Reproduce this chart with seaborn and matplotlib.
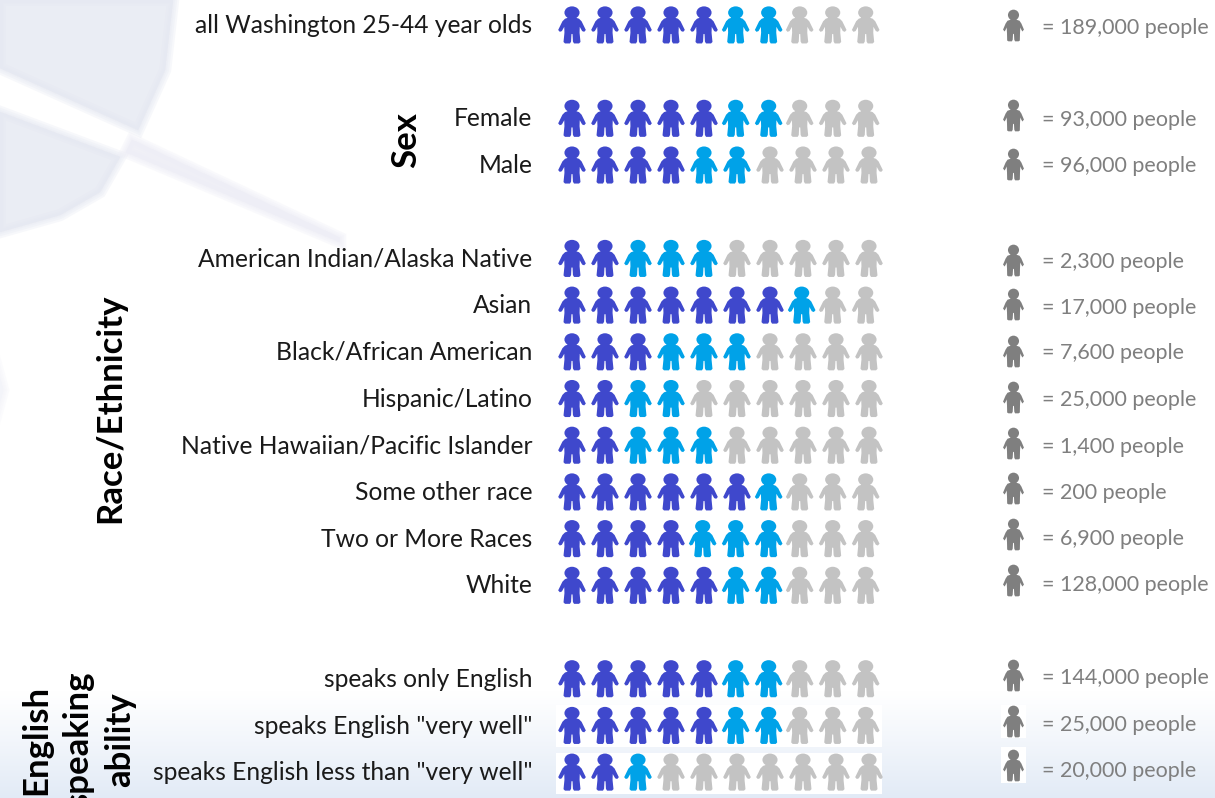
"""Pictogram: share of Washington 25-44 year olds by group, ten person icons per row."""

import numpy as np
import pandas as pd
import matplotlib
matplotlib.use("Agg")
import matplotlib.pyplot as plt
from matplotlib.path import Path
from matplotlib.transforms import Affine2D, ScaledTranslation
import seaborn as sns

labels = ["all Washington 25-44 year olds", "Female", "Male",
          "American Indian/Alaska Native", "Asian", "Black/African American",
          "Hispanic/Latino", "Native Hawaiian/Pacific Islander", "Some other race",
          "Two or More Races", "White",
          "speaks only English", 'speaks English "very well"',
          'speaks English less than "very well"']
rows = [0, 2, 3, 5, 6, 7, 8, 9, 10, 11, 12, 14, 15, 16]
n_dark = [5, 5, 4, 2, 7, 3, 2, 2, 6, 4, 5, 5, 5, 2]
n_blue = [2, 2, 2, 3, 1, 3, 2, 3, 1, 3, 2, 2, 2, 1]
people = ["189,000", "93,000", "96,000", "2,300", "17,000", "7,600", "25,000",
          "1,400", "200", "6,900", "128,000", "144,000", "25,000", "20,000"]

COLORS = {"dark": "#3f48cc", "blue": "#00a2e8", "gray": "#c3c3c3"}
W, H = 1215, 798
SLOT_PX, ROW_PX = 33.0, 46.7
X0_PX, Y0_PX = 572.0, 25.0   # first icon of the first row
# the right hand column is hand placed in the source, it drifts from the rows
ICON_NUDGE_PX = [0, -3.5, -1, 1, -1.5, -1, -2, -2, -4, -5, -5, -4, -4.5, -7]
TEXT_NUDGE_PX = [1, 0, -1, 1.5, 1, 0, 0, 0, -1, -1.5, -2, -2, -2.5, -3]


def person(half, head_rx, head_ry, head_v):
    left = [(-u, v) for u, v in half]
    body = Path(left + [(u, v) for u, v in reversed(half)] + [left[0]], closed=True)
    head = Path.unit_circle().transformed(Affine2D().scale(head_rx, head_ry).translate(0, head_v))
    return Path.make_compound_path(body, head)


big_icon = person([(0.0, 0.42), (0.2, 0.4), (0.38, 0.34), (0.52, 0.2), (0.75, -0.27),
                   (0.66, -0.37), (0.55, -0.33), (0.42, -0.1), (0.41, -0.42), (0.46, -0.92),
                   (0.38, -1.0), (0.11, -1.0), (0.05, -0.9), (0.03, -0.5), (0.0, -0.48)],
                  0.41, 0.34, 0.67)
small_icon = person([(0.0, 0.4), (0.2, 0.36), (0.38, 0.3), (0.5, 0.12), (0.66, -0.26),
                     (0.56, -0.38), (0.47, -0.22), (0.43, -0.12), (0.41, -0.5), (0.4, -0.95),
                     (0.32, -1.0), (0.1, -1.0), (0.05, -0.9), (0.03, -0.55), (0.0, -0.52)],
                    0.35, 0.34, 0.66)

# long table, one line per icon
recs = []
for r, d, b in zip(rows, n_dark, n_blue):
    for s in range(10):
        group = "dark" if s < d else "blue" if s < d + b else "gray"
        shift = 0.0
        if d + b >= 7:   # these rows sit a little tighter in the source
            shift = {"dark": 0.0, "blue": -0.04, "gray": -0.1}[group]
        recs.append(dict(row=r, slot=s + shift, group=group))
icons = pd.DataFrame(recs)
legend_icons = pd.DataFrame(dict(row=np.array(rows) + np.array(ICON_NUDGE_PX) / ROW_PX,
                                 slot=(1013 - X0_PX) / SLOT_PX))

sns.set_theme(style="white")
plt.rcParams["font.family"] = ["Lato", "DejaVu Sans"]

fig = plt.figure(figsize=(W / 100, H / 100), dpi=100)

# backdrop in pixel coordinates: faded logo, bottom gradient, white patches
bg = fig.add_axes([0, 0, 1, 1], zorder=0)
bg.axis("off")
grad = np.linspace(0, 1, 64)[:, None, None] ** 1.1
top, bottom = np.array([1, 1, 1.0]), np.array([0.886, 0.92, 0.965])
bg.imshow(top + grad * (bottom - top), extent=(0, W, H, 690), aspect="auto", zorder=0)
bg.set_xlim(0, W)
bg.set_ylim(H, 0)


def soft_fill(xs, ys, color):
    # stacked translucent strokes stand in for the blurred edge
    for lw in (9, 6, 3, 0.5):
        bg.fill(xs, ys, facecolor=color, edgecolor=color, alpha=0.3, lw=lw)


logo = "#e6e9f2"
soft_fill([0, 173, 165, 138, 0], [0, 0, 70, 130, 68], logo)
soft_fill([0, 120, 100, 60, 0], [112, 157, 192, 215, 232], logo)
soft_fill([132, 340, 340, 126], [140, 238, 242, 152], "#eeeef6")
soft_fill([-8, 3, -8], [350, 390, 430], "#f3f4f9")
for x, y, w, h in [(556, 705, 326, 42), (556, 753, 326, 41), (1001, 705, 25, 33), (1001, 747, 25, 36)]:
    bg.fill([x, x + w, x + w, x], [y, y, y + h, y + h], color="white", lw=0)

# data axes, slot and row scales line up with the icon grid
ax_left = 545
ax = fig.add_axes([ax_left / W, 0, 1 - ax_left / W, 1], zorder=1)
ax.patch.set_alpha(0)
sns.scatterplot(data=icons, x="slot", y="row", hue="group", palette=COLORS, marker=big_icon,
                s=720, linewidth=0, legend=False, ax=ax)
sns.scatterplot(data=legend_icons, x="slot", y="row", color="#7f7f7f", marker=small_icon,
                s=520, linewidth=0, legend=False, ax=ax)
ax.set_xlim((ax_left - X0_PX) / SLOT_PX, (W - X0_PX) / SLOT_PX)
ax.set_ylim((H - Y0_PX) / ROW_PX, -Y0_PX / ROW_PX)
ax.set(xlabel="", ylabel="", xticks=[])
ax.set_yticks(rows, labels)
ax.tick_params(axis="y", length=0, pad=9, labelsize=17.7, labelcolor="#1a1a1a")
for lab in ax.get_yticklabels():
    lab.set_transform(lab.get_transform() + ScaledTranslation(0, 1.5 / 100, fig.dpi_scale_trans))
sns.despine(ax=ax, left=True, bottom=True)

text_slot = (1042 - X0_PX) / SLOT_PX
for r, p, nudge in zip(rows, people, TEXT_NUDGE_PX):
    ax.text(text_slot, r + (1.5 + nudge) / ROW_PX, f"= {p} people", color="#7f7f7f", fontsize=15.5,
            va="center", ha="left")

# group titles sit left of the labels, in figure pixels
bold = dict(rotation=90, ha="center", va="center", fontweight="bold", color="black",
            fontsize=25, transform=bg.transData)
bg.text(406, 140, "Sex", **bold)
bg.text(110, 408, "Race/Ethnicity", **bold)
bg.text(78, 740, "English\nspeaking\nability", linespacing=1.38, **bold)

plt.savefig("out.png", dpi=100)
plt.close()
